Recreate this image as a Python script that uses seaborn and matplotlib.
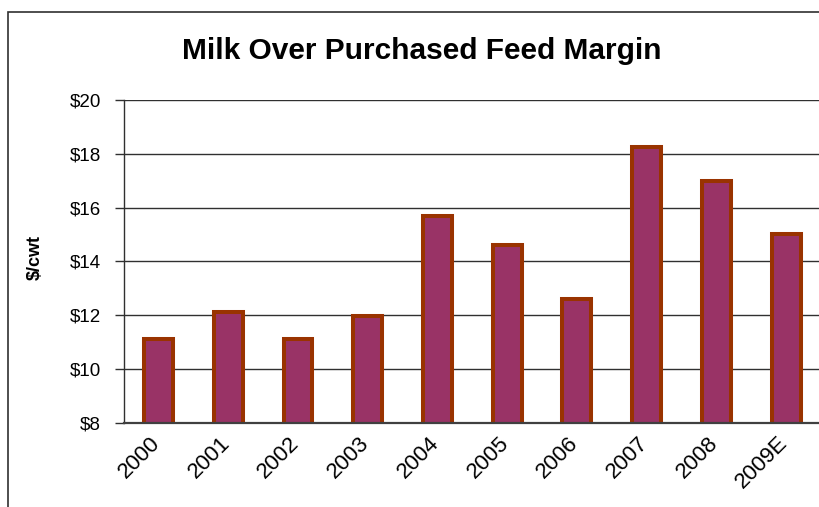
import matplotlib
matplotlib.use("Agg")
import matplotlib.pyplot as plt
from matplotlib.patches import Rectangle
from matplotlib.ticker import FuncFormatter
import matplotlib.transforms as mtransforms
import seaborn as sns
import pandas as pd

years = ["2000", "2001", "2002", "2003", "2004", "2005", "2006", "2007", "2008", "2009E"]
margin = [11.1, 12.1, 11.1, 11.95, 15.7, 14.6, 12.6, 18.27, 17.0, 15.0]
y_ticks = [8, 10, 12, 14, 16, 18, 20]

sns.set_style("white")
plt.rcParams['font.family'] = ['Liberation Sans', 'DejaVu Sans']
plt.rcParams['text.color'] = 'black'
plt.rcParams['xtick.color'] = 'black'
plt.rcParams['ytick.color'] = 'black'

df = pd.DataFrame({"year": years, "margin": margin})

fig = plt.figure(figsize=(8.2, 5.07), dpi=100)
ax = fig.add_axes([123.7/820, (507-422.7)/507, (821-123.7)/820, 322.7/507])

sns.barplot(data=df, x="year", y="margin", color="#993366", edgecolor="#993300",
            linewidth=2.9, width=0.415, saturation=1, ax=ax)

ax.set_ylim(8, 20)
ax.set_xlim(-0.5, 9.5)
ax.set_yticks(y_ticks)
ax.yaxis.set_major_formatter(FuncFormatter(lambda v, p: f"${v:.0f}"))
ax.set_axisbelow(True)
ax.yaxis.grid(True, color="#303030", linewidth=1.0)
ax.xaxis.grid(False)

for s in ["top", "right"]:
    ax.spines[s].set_visible(False)
ax.spines["left"].set_color("#303030")
ax.spines["left"].set_linewidth(1.0)
ax.spines["bottom"].set_color("#404040")
ax.spines["bottom"].set_linewidth(1.6)

ax.tick_params(axis="y", direction="out", length=6.5, width=1, color="#303030",
               labelsize=13.5, labelcolor="black", pad=10, left=True)
ax.tick_params(axis="x", length=0, labelsize=16, labelcolor="black", pad=7, bottom=False)
offset = mtransforms.ScaledTranslation(-9/100, 0, fig.dpi_scale_trans)
for lab in ax.get_xticklabels():
    lab.set_rotation(45)
    lab.set_ha("right")
    lab.set_rotation_mode("anchor")
    lab.set_transform(lab.get_transform() + offset)

ax.set_xlabel("")
ax.set_ylabel("")

fig.text(35/820, 1 - 258/507, "$/cwt", rotation=90, ha="center", va="center",
         fontsize=13, fontweight="bold", color="black")
fig.text(422/820, 1 - 59/507, "Milk Over Purchased Feed Margin", ha="center",
         va="baseline", fontsize=21.5, fontweight="bold", color="black")

fig.patches.append(Rectangle((8.3/820, -0.1), 1.2, 1 - 12/507 + 0.1,
                             transform=fig.transFigure, fill=False,
                             edgecolor="#303030", linewidth=1.2))

fig.savefig("out.png", dpi=100)
